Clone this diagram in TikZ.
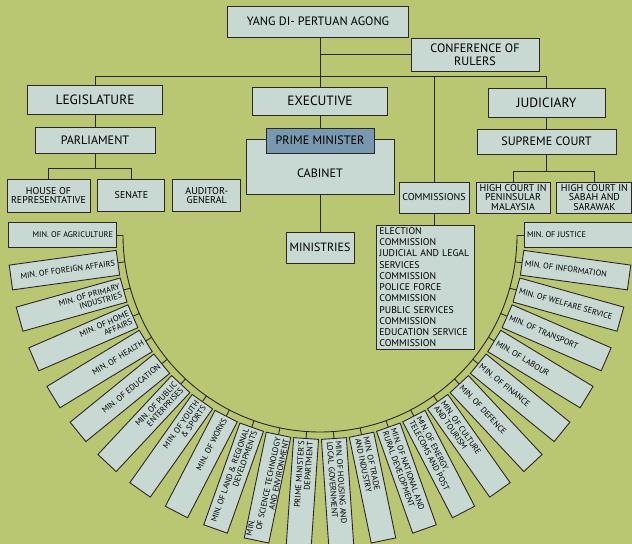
\documentclass[tikz,border=0pt]{standalone}
\usepackage{fontspec}
\setmainfont{PT Sans}
\usetikzlibrary{calc,positioning}

\definecolor{paper}{RGB}{186,199,114}
\definecolor{boxfill}{RGB}{200,216,210}
\definecolor{pmfill}{RGB}{120,152,175}
\definecolor{ink}{RGB}{45,38,40}

\begin{document}
\begin{tikzpicture}[
    x=1bp, y=1bp,
    box/.style={
        draw=ink,
        fill=boxfill,
        line width=0.9bp,
        align=center,
        inner sep=1bp
    },
    big/.style={font=\fontsize{13.5}{15}\selectfont},
    mid/.style={font=\fontsize{12.2}{13.5}\selectfont},
    small/.style={font=\fontsize{10}{9.6}\selectfont},
    minbox/.style={
        draw=ink,
        fill=boxfill,
        line width=0.9bp,
        text width=102bp,
        minimum height=25bp,
        inner xsep=3bp,
        inner ysep=0.5bp,
        font=\fontsize{8.3}{8.6}\selectfont
    },
    link/.style={
        draw=ink,
        line width=0.9bp
    }
]

% Background
\fill[paper] (0,0) rectangle (632,-544);
\useasboundingbox (0,0) rectangle (632,-544);
\clip (0,0) rectangle (632,-544);

% Head of state
\node[box, mid, minimum width=181bp, minimum height=31bp] (yang) at (318,-21.5) {YANG DI- PERTUAN AGONG};
\node[box, mid, minimum width=128bp, minimum height=33bp] (conf) at (475,-54.5) {CONFERENCE OF\\RULERS};

% Three branches
\node[box, big, minimum width=135bp, minimum height=29bp] (leg) at (95,-99.5) {LEGISLATURE};
\node[box, big, minimum width=135bp, minimum height=28bp] (exec) at (320,-101) {EXECUTIVE};
\node[box, big, minimum width=117bp, minimum height=29bp] (jud) at (546.5,-102.5) {JUDICIARY};

% Legislature
\node[box, mid, minimum width=120bp, minimum height=26bp] (parl) at (95,-140) {PARLIAMENT};
\node[box, small, minimum width=83bp, minimum height=33bp] (house) at (48.5,-195.5) {HOUSE OF\\REPRESENTATIVE};
\node[box, small, minimum width=67bp, minimum height=32bp, right=7bp of house] (senate) {SENATE};
\node[box, small, minimum width=68bp, minimum height=32bp, right=7bp of senate] (audit) {AUDITOR-\\GENERAL};

% Executive
\node[box, minimum width=148bp, minimum height=55bp, label={[mid, yshift=-6.5bp]center:CABINET}] (cab) at (320,-166.5) {};
\node[box, mid, fill=pmfill, minimum width=108bp, minimum height=25bp] (pm) at (320,-140.5) {PRIME MINISTER};
\node[box, font=\fontsize{12}{13}\selectfont, minimum width=68bp, minimum height=31bp] (mins) at (320,-247.5) {MINISTRIES};

% Commissions
\node[box, small, minimum width=70bp, minimum height=31bp] (comm) at (434,-197.5) {COMMISSIONS};
\node[box, align=left, text width=92bp, inner xsep=3bp, inner ysep=2bp, anchor=north west,
      font=\fontsize{9.8}{11.3}\selectfont] (clist) at (376,-225)
    {ELECTION\\COMMISSION\\JUDICIAL AND LEGAL\\SERVICES\\COMMISSION\\POLICE FORCE\\COMMISSION\\PUBLIC SERVICES\\COMMISSION\\EDUCATION SERVICE\\COMMISSION};

% Judiciary
\node[box, mid, minimum width=139bp, minimum height=25bp] (sup) at (546.5,-141.5) {SUPREME COURT};
\node[box, small, minimum width=74bp, minimum height=31bp] (hcp) at (513,-197.5) {HIGH COURT IN\\PENINSULAR\\MALAYSIA};
\node[box, small, minimum width=75bp, minimum height=31bp, right=6bp of hcp] (hcs) {HIGH COURT IN\\SABAH AND\\SARAWAK};

% Connectors
\coordinate (bar) at (0,-76);
\draw[link] (exec.north |- yang.south) -- (exec.north);
\draw[link] (exec.north |- conf.west) -- (conf.west);
\draw[link] (leg.north) |- (bar -| jud.north) -- (jud.north);
\draw[link] (comm.north |- bar) -- (comm.north);
\draw[link] (leg) -- (parl);
\draw[link] (parl.south) -- ++(0,-15) -| (house.north);
\draw[link] (parl.south) -- ++(0,-15) -| (senate.north);
\draw[link] (exec) -- (pm);
\draw[link] (cab) -- (mins);
\draw[link] (comm.south) -- (comm.south |- clist.north);
\draw[link] (jud) -- (sup);
\draw[link] (sup.south) -- ++(0,-17) -| (hcp.north);
\draw[link] (sup.south) -- ++(0,-17) -| (hcs.north);

% Ring of ministries
\coordinate (ring) at (320,-235);
\draw[link] ([shift={(180:197bp)}]ring) arc[start angle=180, end angle=360, radius=197bp];

\foreach \txt [count=\i from 0] in {MIN. OF AGRICULTURE, MIN. OF FOREIGN AFFAIRS, MIN. OF PRIMARY\\INDUSTRIES,
    MIN. OF HOME\\AFFAIRS, MIN. OF HEALTH, MIN. OF EDUCATION, MIN. OF PUBLIC\\ENTERPRISES,
    MIN. OF YOUTH\\\& SPORTS, MIN. OF WORKS, MIN. OF LAND \& REGIONAL\\DEVELOPMENTS,
    MIN.\hfill\mbox{}\\OF SCIENCE TECHNOLOGY\\AND ENVIRONMENT, PRIME MINISTER'S\\DEPARTMENT}{
    \pgfmathsetmacro\ang{180+\i*180/23}
    \node[minbox, align=flush right, rotate=\ang-180] (m\i) at ($(ring)+(\ang:258bp)$) {\txt};
    \coordinate (t\i) at ($(ring)+(\ang:197bp)$);
    \draw[link] (t\i) -- (m\i.east);
}

\foreach \txt [count=\i from 12] in {MIN. OF HOUSING AND\\LOCAL GOVERNMENT, MIN. OF TRADE\\AND INDUSTRY,
    MIN. OF NATIONAL AND\\RURAL DEVELOPMENT, {MIN. OF ENERGY,\\TELECOMS AND POST}, MIN. OF CULTURE\\AND TOURISM,
    MIN. OF DEFENCE, MIN. OF FINANCE, MIN. OF LABOUR, MIN. OF TRANSPORT, MIN. OF WELFARE SERVICE,
    MIN. OF INFORMATION, MIN. OF JUSTICE}{
    \pgfmathsetmacro\ang{180+\i*180/23}
    \node[minbox, align=flush left, rotate=\ang] (m\i) at ($(ring)+(\ang:258bp)$) {\txt};
    \coordinate (t\i) at ($(ring)+(\ang:197bp)$);
    \draw[link] (t\i) -- (m\i.west);
}

\end{tikzpicture}
\end{document}
